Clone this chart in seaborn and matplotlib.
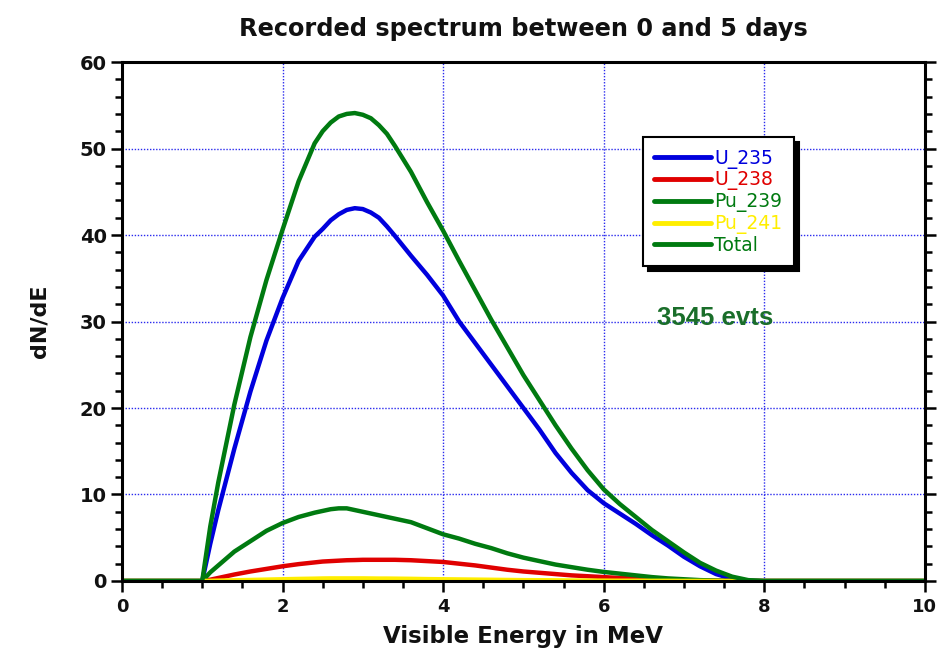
import numpy as np
import pandas as pd
import matplotlib
matplotlib.use("Agg")
import matplotlib.pyplot as plt
import seaborn as sns
from matplotlib.ticker import MultipleLocator

# ---- data ----
energy = [0.0, 0.5, 1.0, 1.1, 1.2, 1.4, 1.6, 1.8, 2.0, 2.2, 2.4, 2.5, 2.6, 2.7, 2.8, 2.9, 3.0,
          3.1, 3.2, 3.3, 3.4, 3.6, 3.8, 4.0, 4.2, 4.4, 4.6, 4.8, 5.0, 5.2, 5.4, 5.6, 5.8,
          6.0, 6.2, 6.4, 6.6, 6.8, 7.0, 7.2, 7.4, 7.6, 7.8, 8.0, 9.0, 10.0]

u235 = [0, 0, 0, 4.3, 8.2, 15.3, 21.9, 27.8, 32.7, 37.0, 39.8, 40.7, 41.7, 42.4, 42.9, 43.1, 43.0,
        42.6, 42.0, 41.0, 39.9, 37.6, 35.4, 33.0, 30.0, 27.5, 25.0, 22.5, 20.0, 17.5, 14.8, 12.5, 10.5,
        9.0, 7.8, 6.6, 5.3, 4.1, 2.8, 1.7, 0.8, 0.25, 0.05, 0, 0, 0]

u238 = [0, 0, 0, 0.15, 0.35, 0.75, 1.1, 1.4, 1.7, 1.95, 2.15, 2.25, 2.3, 2.35, 2.4, 2.42, 2.45,
        2.45, 2.45, 2.45, 2.45, 2.4, 2.3, 2.2, 2.0, 1.8, 1.55, 1.3, 1.1, 0.95, 0.8, 0.65, 0.55,
        0.45, 0.35, 0.28, 0.2, 0.12, 0.08, 0.05, 0.03, 0.01, 0, 0, 0, 0]

pu239 = [0, 0, 0, 1.0, 1.8, 3.4, 4.6, 5.8, 6.7, 7.4, 7.9, 8.1, 8.3, 8.4, 8.4, 8.2, 8.0,
         7.8, 7.6, 7.4, 7.2, 6.8, 6.1, 5.4, 4.9, 4.3, 3.8, 3.2, 2.7, 2.3, 1.9, 1.6, 1.3,
         1.05, 0.85, 0.65, 0.45, 0.3, 0.2, 0.1, 0.05, 0.02, 0, 0, 0, 0]

pu241 = [0, 0, 0, 0.02, 0.04, 0.08, 0.12, 0.16, 0.2, 0.24, 0.27, 0.29, 0.3, 0.3, 0.3, 0.3, 0.3,
         0.29, 0.28, 0.28, 0.27, 0.25, 0.22, 0.2, 0.18, 0.16, 0.14, 0.12, 0.1, 0.09, 0.08, 0.06, 0.05,
         0.04, 0.03, 0.03, 0.02, 0.02, 0.01, 0.01, 0.0, 0.0, 0, 0, 0, 0]

total = [0, 0, 0, 6.3, 11.4, 20.4, 28.2, 34.8, 40.6, 46.2, 50.6, 52.0, 53.0, 53.7, 54.0, 54.1, 53.9,
         53.5, 52.7, 51.7, 50.3, 47.3, 43.8, 40.5, 37.0, 33.6, 30.2, 27.0, 23.8, 20.9, 18.0, 15.3, 12.8,
         10.6, 8.9, 7.4, 5.9, 4.6, 3.3, 2.1, 1.2, 0.5, 0.1, 0, 0, 0]

series_names = ["U_235", "U_238", "Pu_239", "Pu_241", "Total"]
series_colors = ["#0000dd", "#e00000", "#007a10", "#ffee00", "#007a10"]

x_ticks = [0, 2, 4, 6, 8, 10]
y_ticks = [0, 10, 20, 30, 40, 50, 60]

title_text = "Recorded spectrum between 0 and 5 days"
x_label = "Visible Energy in MeV"
y_label = "dN/dE"
note_text = "3545 evts"

# ---- build long-form table ----
frames = []
for name, vals in zip(series_names, [u235, u238, pu239, pu241, total]):
    frames.append(pd.DataFrame({"energy": energy, "dNdE": vals, "series": name}))
df = pd.concat(frames, ignore_index=True)

sns.set_theme(style="white")
plt.rcParams["font.family"] = ["DejaVu Sans"]

fig = plt.figure(figsize=(9.38, 6.48), dpi=100)
ax = fig.add_axes([0.130, 0.1034, 0.856, 0.8009])

sns.lineplot(data=df, x="energy", y="dNdE", hue="series", hue_order=series_names,
             palette=dict(zip(series_names, series_colors)), linewidth=3.2,
             ax=ax, legend=True, estimator=None, sort=False)
for ln in ax.get_lines():
    ln.set_solid_joinstyle("round")

ax.set_xlim(0, 10)
ax.set_ylim(0, 60)
ax.set_xticks(x_ticks)
ax.set_yticks(y_ticks)
ax.xaxis.set_minor_locator(MultipleLocator(0.5))
ax.yaxis.set_minor_locator(MultipleLocator(2))

# grid: blue dotted at major ticks
ax.grid(True, which="major", color="#2a2aee", linestyle=(0, (1, 1.2)), linewidth=1.0)
ax.set_axisbelow(True)

for side in ["left", "bottom", "right", "top"]:
    ax.spines[side].set_visible(True)
    ax.spines[side].set_color("black")
    ax.spines[side].set_linewidth(2.2)

ax.tick_params(axis="y", which="both", left=True, right=True, direction="out",
               color="black", width=1.8, labelright=False)
ax.tick_params(axis="y", which="major", length=8, labelsize=14, pad=3)
ax.tick_params(axis="y", which="minor", length=5)
ax.tick_params(axis="x", which="both", bottom=True, top=False, direction="out",
               color="black", width=1.8)
ax.tick_params(axis="x", which="major", length=8, labelsize=13, pad=4)
ax.tick_params(axis="x", which="minor", length=5)
for lab in ax.get_xticklabels() + ax.get_yticklabels():
    lab.set_fontweight("bold")
    lab.set_color("#111111")

ax.set_title(title_text, fontsize=17.3, fontweight="bold", pad=19, color="#111111")
ax.set_xlabel(x_label, fontsize=16.5, fontweight="bold", labelpad=7, color="#111111")
ax.set_ylabel(y_label, fontsize=16, fontweight="bold", labelpad=22, color="#111111")

ax.text(0.666, 0.506, note_text, transform=ax.transAxes, fontsize=18.5,
        fontweight="bold", color="#1a6e2a", ha="left", va="center",
        family=["Liberation Sans", "DejaVu Sans"])

handles, labels = ax.get_legend_handles_labels()
leg_kw = dict(loc="upper left", bbox_to_anchor=(0.649, 0.855),
              frameon=True, fancybox=False, framealpha=1, edgecolor="black",
              fontsize=13.5, handlelength=3.0, handletextpad=0.2,
              labelspacing=0.1, borderpad=0.6, borderaxespad=0)
try:
    leg = ax.legend(handles, labels,
                    shadow={"ox": 3.5, "oy": -3.5, "color": "black", "alpha": 1},
                    **leg_kw)
except Exception:
    leg = ax.legend(handles, labels, shadow=True, **leg_kw)
leg.get_frame().set_linewidth(1.5)
for txt, col in zip(leg.get_texts(), series_colors):
    txt.set_color(col)
for ln in leg.get_lines():
    ln.set_linewidth(3.5)
leg.set_zorder(10)

fig.savefig("out.png", dpi=100, facecolor="white")
